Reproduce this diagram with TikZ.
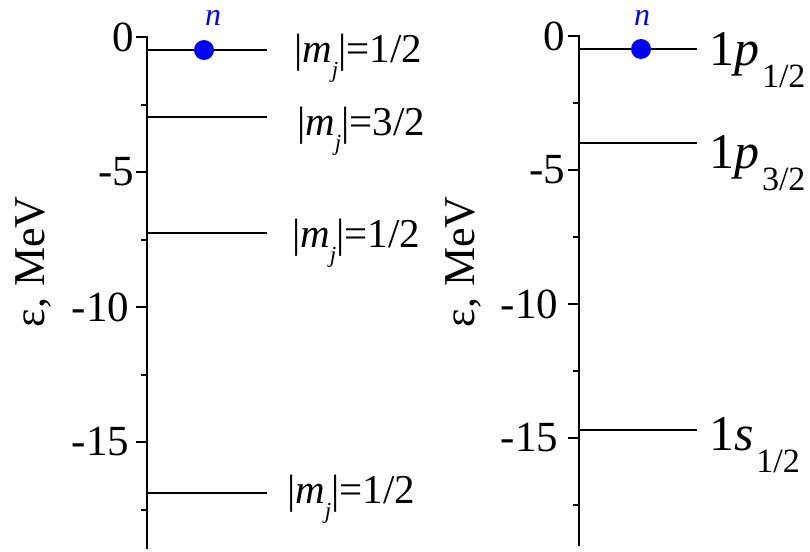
\documentclass[tikz,border=0pt]{standalone}
\usepackage{fontspec}
\setmainfont{Liberation Serif}
\begin{document}
\begin{tikzpicture}[x=1pt,y=-1pt,line width=2pt,
  ticklab/.style={anchor=east,inner sep=0pt,font=\fontsize{43}{43}\selectfont},
  levlab/.style={anchor=base west,inner sep=0pt,font=\fontsize{41}{41}\selectfont},
  biglab/.style={anchor=base west,inner sep=0pt,font=\fontsize{50}{50}\selectfont},
  axlab/.style={rotate=90,inner sep=0pt,font=\fontsize{44}{44}\selectfont},
  particle/.style={circle,fill=blue,draw=none,minimum size=20pt,inner sep=0pt},
  nlab/.style={inner sep=0pt,text=blue,font=\fontsize{32}{32}\selectfont\itshape},
  level/.style={line width=2pt}]
\useasboundingbox (0,0) rectangle (810,551);
\newcommand{\mjlab}[1]{|\textit{m}\raisebox{-15pt}{\fontsize{23}{23}\selectfont\textit{j}}|=#1}
\newcommand{\nlj}[2]{1\textit{#1}\hspace{3pt}\raisebox{-22pt}{\fontsize{34}{34}\selectfont #2}}
% ---------- left panel ----------
\coordinate (LT) at (136,37);
\coordinate (LC) at (147,37);
\coordinate (LB) at (147,549);
\draw (LT) -- (LC) -- (LB);
\foreach \y in {172,307,442} \draw (136,\y) -- (147,\y);
\foreach \y in {104.5,239.5,374.5,509.5} \draw (141,\y) -- (147,\y);
\node[ticklab] (l0) at (135,37) {0};
\node[ticklab] (l5) at (135,172) {-5};
\node[ticklab] (l10) at (130,307) {-10};
\node[ticklab] (l15) at (130,442) {-15};
\node[axlab] (ylL) at (33,262) {ε, MeV};
\coordinate (a1) at (147,50); \coordinate (b1) at (267,50);
\coordinate (a2) at (147,117); \coordinate (b2) at (267,117);
\coordinate (a3) at (147,233); \coordinate (b3) at (267,233);
\coordinate (a4) at (147,493); \coordinate (b4) at (267,493);
\draw[level] (a1) -- (b1);
\draw[level] (a2) -- (b2);
\draw[level] (a3) -- (b3);
\draw[level] (a4) -- (b4);
\node[particle] (pL) at (204,50) {};
\node[nlab] (nL) at (213,18) {n};
\node[levlab] (m1) at (293,63) {\mjlab{1/2}};
\node[levlab] (m2) at (296,135) {\mjlab{3/2}};
\node[levlab] (m3) at (291,247) {\mjlab{1/2}};
\node[levlab] (m4) at (286,503) {\mjlab{1/2}};
% ---------- right panel ----------
\coordinate (RT) at (568,36);
\coordinate (RC) at (579,36);
\coordinate (RB) at (579,546);
\draw (RT) -- (RC) -- (RB);
\foreach \y in {170,304,438} \draw (568,\y) -- (579,\y);
\foreach \y in {103,237,371,505} \draw (573,\y) -- (579,\y);
\node[ticklab] (r0) at (566,36) {0};
\node[ticklab] (r5) at (566,170) {-5};
\node[ticklab] (r10) at (559,304) {-10};
\node[ticklab] (r15) at (559,438) {-15};
\node[axlab] (ylR) at (463,262) {ε, MeV};
\coordinate (c1) at (579,49); \coordinate (d1) at (697,49);
\coordinate (c2) at (579,143); \coordinate (d2) at (697,143);
\coordinate (c3) at (579,430); \coordinate (d3) at (697,430);
\draw[level] (c1) -- (d1);
\draw[level] (c2) -- (d2);
\draw[level] (c3) -- (d3);
\node[particle] (pR) at (641,49) {};
\node[nlab] (nR) at (642,18) {n};
\node[biglab] (s1) at (708,65) {\nlj{p}{1/2}};
\node[biglab] (s2) at (708,168) {\nlj{p}{3/2}};
\node[biglab] (s3) at (708,450) {\nlj{s}{1/2}};
\end{tikzpicture}
\end{document}
